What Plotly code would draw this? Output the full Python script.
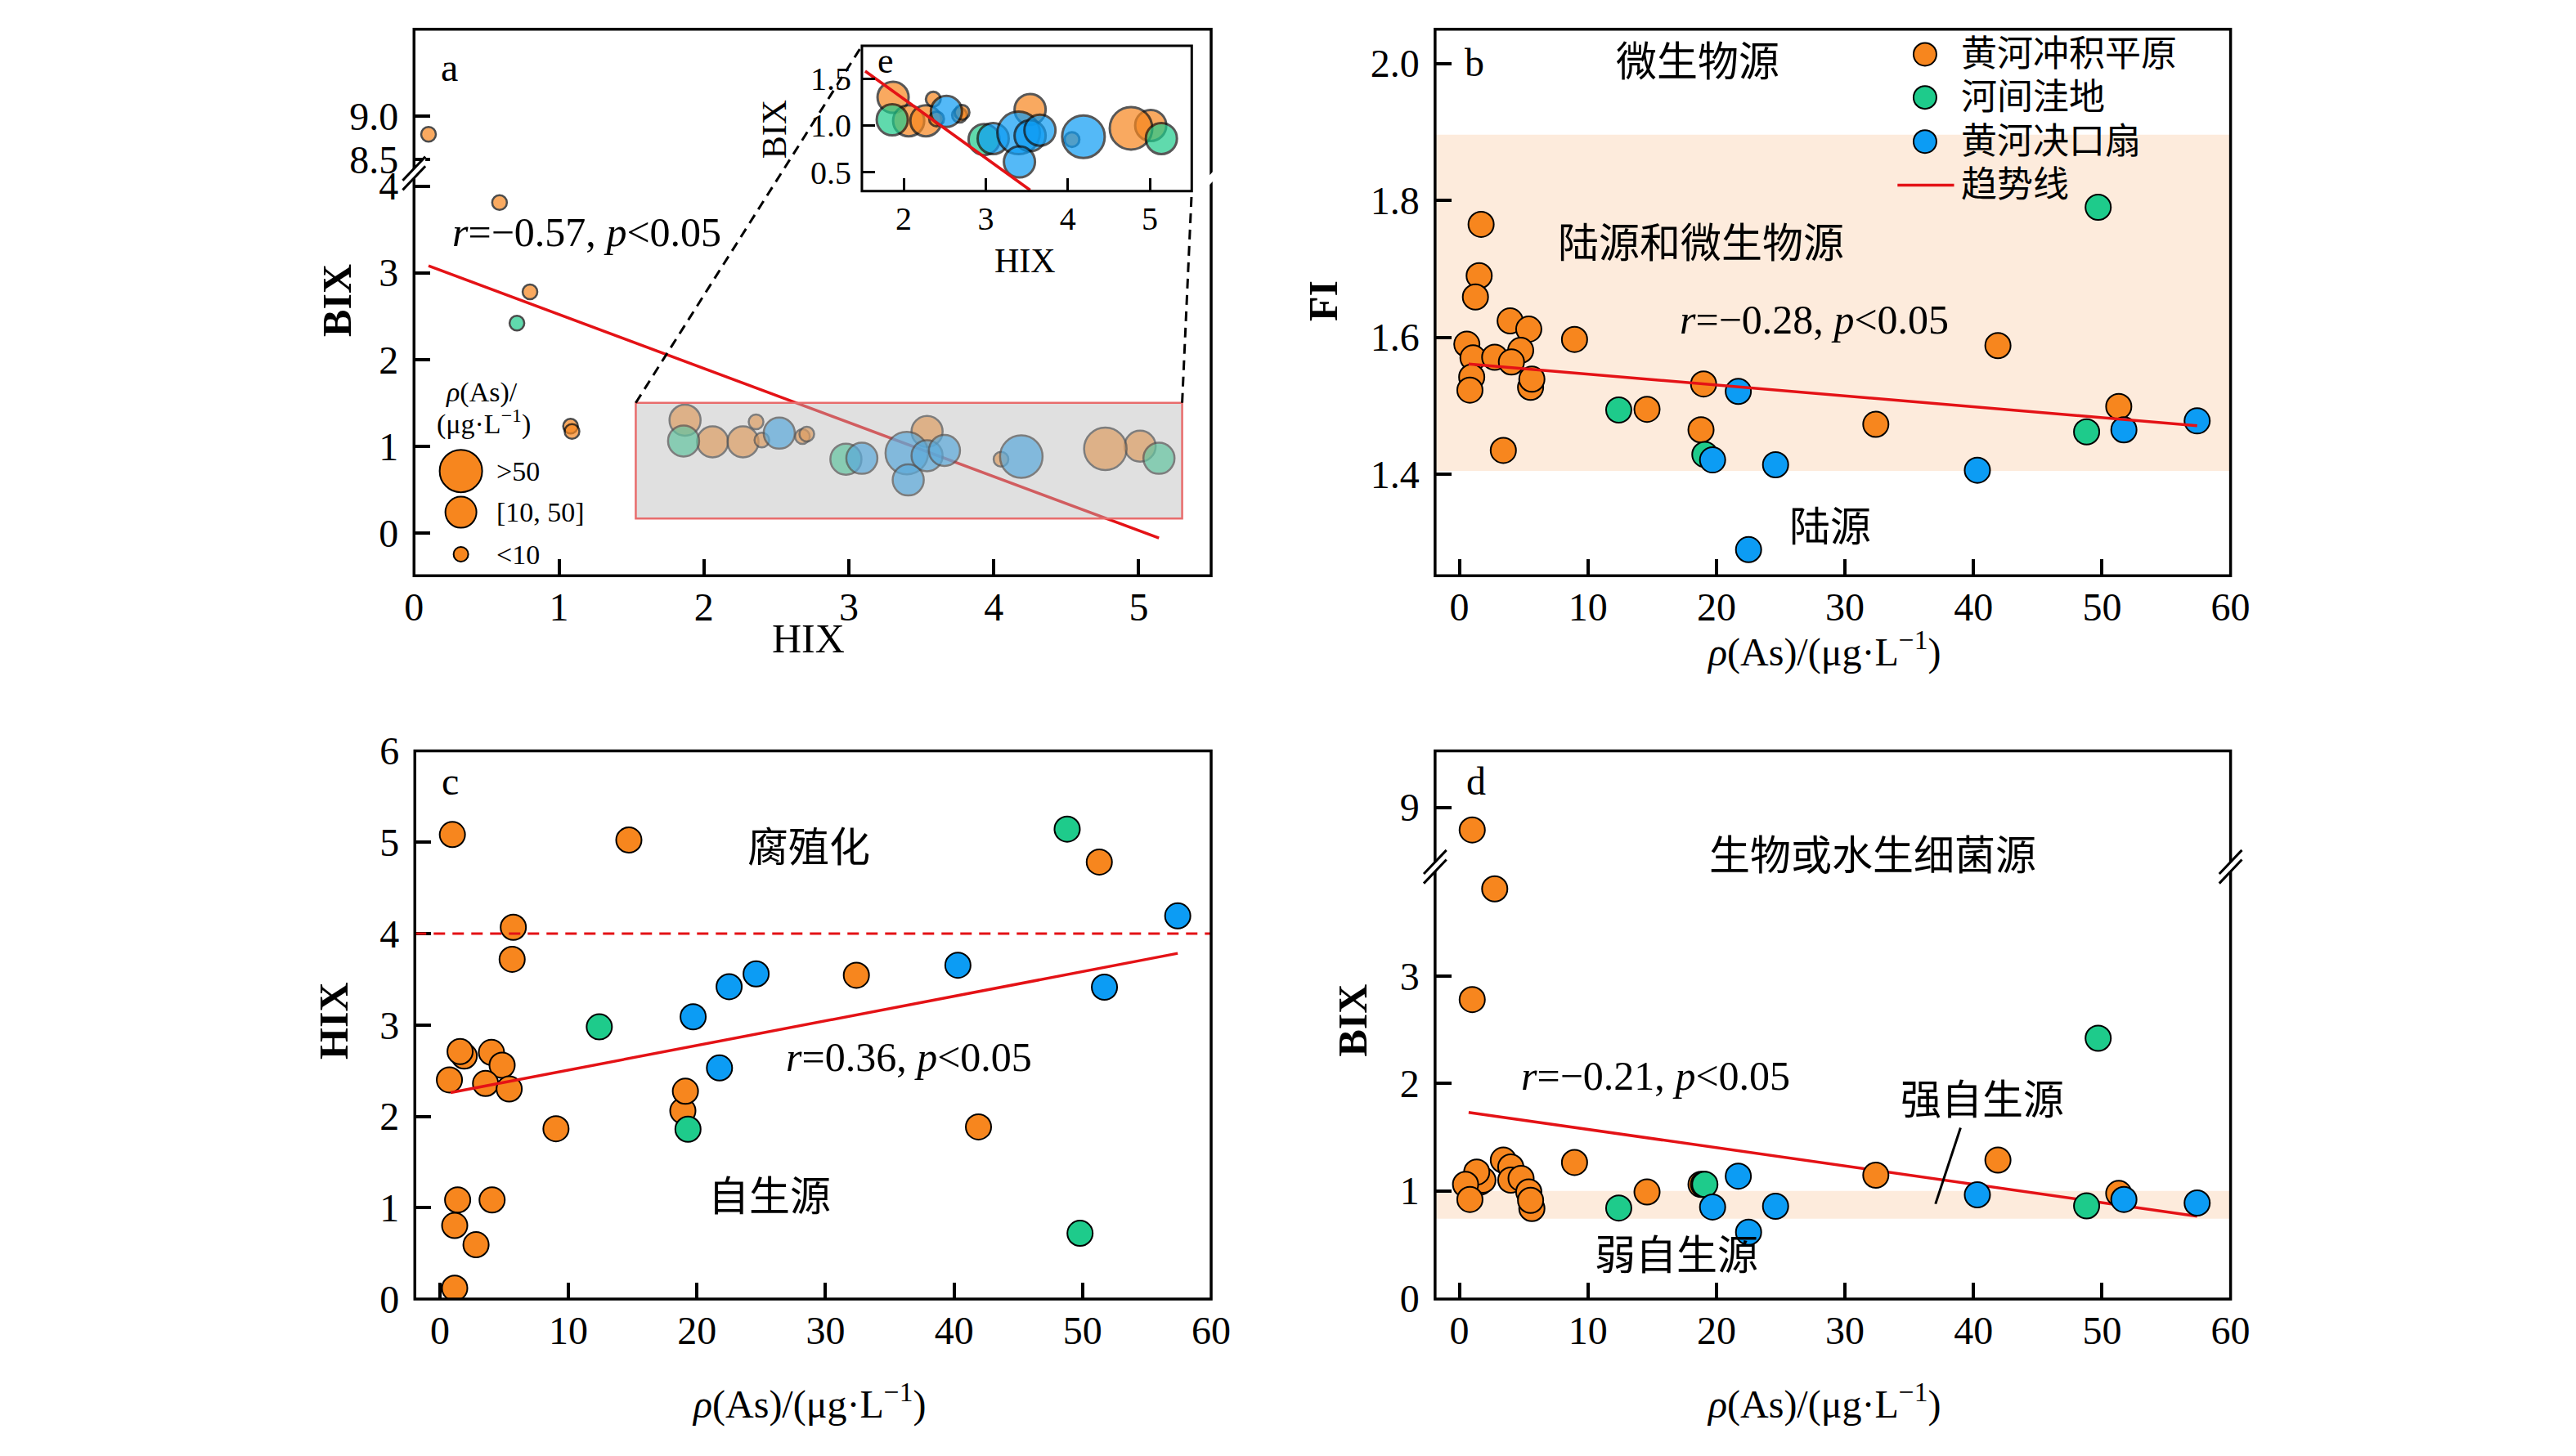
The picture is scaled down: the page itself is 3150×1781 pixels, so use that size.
import plotly.graph_objects as go

W, H = 3150, 1781
FONT = "Liberation Serif, Noto Sans CJK SC, serif"

# groups
groups = ["黄河冲积平原", "河间洼地", "黄河决口扇"]
colors = ["#F7861E", "#1ECB8B", "#0C9CF4"]
trend_color = "rgb(228,18,22)"

# size classes of rho(As)
size_labels = [">50", "[10, 50]", "<10"]
size_px = {">50": 52, "[10, 50]": 38, "<10": 18}

# panel a / e : HIX vs BIX
a_orange_hix = [0.10, 0.59, 0.80, 1.08, 1.09, 1.87, 2.06, 2.27, 2.36, 2.40, 2.68, 2.71, 3.54, 4.05, 5.01, 4.77]
a_orange_bix = [8.79, 3.81, 2.78, 1.23, 1.17, 1.30, 1.05, 1.05, 1.28, 1.07, 1.11, 1.14, 1.17, 0.85, 1.00, 0.97]
a_orange_cls = ["<10", "<10", "<10", "<10", "<10", "[10, 50]", "[10, 50]", "[10, 50]", "<10", "<10",
                "<10", "<10", "[10, 50]", "<10", "[10, 50]", ">50"]
a_green_hix = [0.71, 1.86, 2.98, 5.14]
a_green_bix = [2.42, 1.06, 0.85, 0.86]
a_green_cls = ["<10", "[10, 50]", "[10, 50]", "[10, 50]"]
a_blue_hix = [2.52, 3.09, 3.40, 3.54, 3.66, 3.41, 4.19]
a_blue_bix = [1.15, 0.86, 0.92, 0.89, 0.95, 0.61, 0.88]
a_blue_cls = ["[10, 50]", "[10, 50]", ">50", "[10, 50]", "[10, 50]", "[10, 50]", ">50"]
a_trend_x = [0.10, 5.14]
a_trend_y = [3.08, -0.06]
e_trend_x = [1.53, 3.54]
e_trend_y = [1.58, 0.31]

# panel b : As vs FI
b_orange_as = [1.69, 1.54, 1.25, 3.95, 5.4, 0.58, 1.06, 2.75, 4.77, 4.05, 0.96, 5.54, 5.64, 0.82, 8.96,
               3.42, 14.6, 19.0, 18.8, 32.4, 41.9, 51.3]
b_orange_fi = [1.765, 1.690, 1.659, 1.624, 1.612, 1.590, 1.570, 1.571, 1.581, 1.564, 1.542, 1.527, 1.539,
               1.523, 1.597, 1.435, 1.495, 1.532, 1.465, 1.473, 1.588, 1.499]
b_green_as = [12.4, 19.1, 48.8, 49.7]
b_green_fi = [1.494, 1.429, 1.462, 1.790]
b_blue_as = [21.7, 19.7, 24.6, 22.5, 40.3, 51.7, 57.4]
b_blue_fi = [1.521, 1.421, 1.414, 1.290, 1.406, 1.465, 1.478]
b_trend_x = [0.72, 57.4]
b_trend_y = [1.561, 1.471]
fi_band = [1.405, 1.896]

# panel c : As vs HIX
c_orange_as = [0.97, 14.7, 5.71, 5.62, 1.89, 1.57, 4.01, 4.84, 0.74, 3.55, 5.39, 9.03, 18.9, 19.1, 32.4,
               41.9, 51.3, 1.38, 4.06, 1.15, 2.81, 1.15]
c_orange_hix = [5.085, 5.025, 4.07, 3.72, 2.66, 2.71, 2.70, 2.56, 2.40, 2.36, 2.30, 1.865, 2.06, 2.275,
                3.545, 1.885, 4.785, 1.085, 1.085, 0.805, 0.595, 0.12]
c_green_as = [12.4, 19.3, 48.8, 49.8]
c_green_hix = [2.98, 1.86, 5.145, 0.72]
c_blue_as = [19.7, 21.75, 22.5, 24.6, 40.3, 51.7, 57.4]
c_blue_hix = [3.09, 2.53, 3.42, 3.56, 3.655, 3.415, 4.195]
c_trend_x = [0.83, 57.4]
c_trend_y = [2.26, 3.785]
hix_threshold = 4

# panel d : As vs BIX
d_orange_as = [1.0, 2.75, 1.0, 3.42, 4.0, 8.96, 1.6, 1.83, 1.35, 0.48, 0.82, 4.0, 4.8, 5.64, 5.4, 5.54,
               14.6, 18.8, 19.0, 32.4, 41.9, 51.3]
d_orange_bix = [8.79, 3.81, 2.78, 1.286, 1.222, 1.264, 1.08, 1.10, 1.175, 1.06, 0.92, 1.10, 1.116, 0.836,
                0.99, 0.912, 0.989, 1.06, 1.06, 1.146, 1.286, 0.976]
d_green_as = [12.4, 19.1, 48.8, 49.7]
d_green_bix = [0.84, 1.06, 0.86, 2.42]
d_blue_as = [21.7, 19.7, 24.6, 22.5, 40.3, 51.7, 57.4]
d_blue_bix = [1.137, 0.85, 0.857, 0.615, 0.963, 0.92, 0.887]
d_trend_x = [0.72, 57.4]
d_trend_y = [1.73, 0.764]
bix_band = [0.74, 1.0]


def fx(px):
    return px / W


def fy(py):
    return 1 - py / H


# panel boxes in pixels: (left, top, right, bottom)
PA = (500, 10, 1486, 699)
PB = (1763, 10, 2747, 699)
PC = (501, 920, 1486, 1611)
PD = (1763, 920, 2747, 1611)
PE = (1054, 31, 1462, 214)
A_BREAK = 191.7
D_BREAK = 1063

fig = go.Figure()


def scatter(x, y, color, xa, ya, size=31, lw=2, line="black"):
    fig.add_trace(go.Scatter(x=x, y=y, mode="markers", xaxis=xa, yaxis=ya, showlegend=False,
                             marker=dict(color=color, size=size, line=dict(color=line, width=lw))))


def trend(x, y, xa, ya):
    fig.add_trace(go.Scatter(x=x, y=y, mode="lines", xaxis=xa, yaxis=ya, showlegend=False,
                             line=dict(color=trend_color, width=3.5)))


a_sets = [(a_orange_hix, a_orange_bix, a_orange_cls), (a_green_hix, a_green_bix, a_green_cls),
          (a_blue_hix, a_blue_bix, a_blue_cls)]

# panel a (lower and upper part) and inset e
trend(a_trend_x, a_trend_y, "x", "y")
for (hx, bx, cl), col in zip(a_sets, colors):
    sz = [size_px[c] for c in cl]
    for ya in ["y", "y2"]:
        scatter(hx, bx, col, "x", ya, size=sz, lw=2.5)
for (hx, bx, cl), col in zip(a_sets, colors):
    sz = [size_px[c] for c in cl]
    scatter(hx, bx, col, "x5", "y7", size=sz, lw=3, line="#111111")
trend(e_trend_x, e_trend_y, "x5", "y7")

# panel b
for xs, ys, col in zip([b_orange_as, b_green_as, b_blue_as], [b_orange_fi, b_green_fi, b_blue_fi], colors):
    scatter(xs, ys, col, "x2", "y3")
trend(b_trend_x, b_trend_y, "x2", "y3")

# panel c
for xs, ys, col in zip([c_orange_as, c_green_as, c_blue_as], [c_orange_hix, c_green_hix, c_blue_hix], colors):
    scatter(xs, ys, col, "x3", "y4")
trend(c_trend_x, c_trend_y, "x3", "y4")

# panel d (lower and upper part)
trend(d_trend_x, d_trend_y, "x4", "y5")
for xs, ys, col in zip([d_orange_as, d_green_as, d_blue_as], [d_orange_bix, d_green_bix, d_blue_bix], colors):
    for ya in ["y5", "y6"]:
        scatter(xs, ys, col, "x4", ya)

ax = dict(showgrid=False, zeroline=False, showline=False, ticks="inside", ticklen=20, tickwidth=3.5,
          tickcolor="black", tickfont=dict(size=48, family=FONT, color="black"), ticklabelstandoff=18)
xax = dict(ax, ticklabelstandoff=6)
inset_ax = dict(ax, ticklen=16, tickwidth=3, tickfont=dict(size=40, family=FONT, color="black"),
                ticklabelstandoff=12)
inset_xax = dict(inset_ax, ticklabelstandoff=6)
as_ticks = [0, 10, 20, 30, 40, 50, 60]

fig.update_layout(
    xaxis=dict(xax, domain=[fx(PA[0]), fx(PA[2])], range=[0, 5.5], tickvals=[0, 1, 2, 3, 4, 5], anchor="y"),
    yaxis=dict(ax, domain=[fy(PA[3]), fy(A_BREAK)], range=[-0.494, 4.147], tickvals=[0, 1, 2, 3, 4], anchor="x"),
    yaxis2=dict(ax, domain=[fy(A_BREAK), fy(PA[1])], range=[8.342, 9.994], tickvals=[8.5, 9.0],
                tickformat=".1f", anchor="x"),
    xaxis2=dict(xax, domain=[fx(PB[0]), fx(PB[2])], range=[-1.89, 60], tickvals=as_ticks, anchor="y3"),
    yaxis3=dict(ax, domain=[fy(PB[3]), fy(PB[1])], range=[1.252, 2.05], tickvals=[1.4, 1.6, 1.8, 2.0],
                tickformat=".1f", anchor="x2"),
    xaxis3=dict(xax, domain=[fx(PC[0]), fx(PC[2])], range=[-1.95, 60], tickvals=as_ticks, anchor="y4"),
    yaxis4=dict(ax, domain=[fy(PC[3]), fy(PC[1])], range=[0, 6], tickvals=[0, 1, 2, 3, 4, 5, 6], anchor="x3"),
    xaxis4=dict(xax, domain=[fx(PD[0]), fx(PD[2])], range=[-1.89, 60], tickvals=as_ticks, anchor="y5"),
    yaxis5=dict(ax, domain=[fy(PD[3]), fy(D_BREAK)], range=[-0.007, 4.037], tickvals=[0, 1, 2, 3], anchor="x4"),
    yaxis6=dict(ax, domain=[fy(D_BREAK), fy(PD[1])], range=[8.469, 9.524], tickvals=[9], anchor="x4"),
    xaxis5=dict(inset_xax, domain=[fx(PE[0]), fx(PE[2])], range=[1.49, 5.51], tickvals=[2, 3, 4, 5], anchor="y7"),
    yaxis7=dict(inset_ax, domain=[fy(PE[3]), fy(PE[1])], range=[0.30, 1.85], tickvals=[0.5, 1.0, 1.5],
                tickformat=".1f", anchor="x5"),
)

shapes = []
# background bands and threshold
shapes.append(dict(type="rect", xref="x2 domain", yref="y3", x0=0, x1=1, y0=fi_band[0], y1=fi_band[1],
                   fillcolor="#FDEBDC", line=dict(width=0), layer="below"))
shapes.append(dict(type="rect", xref="x4 domain", yref="y5", x0=0, x1=1, y0=bix_band[0], y1=bix_band[1],
                   fillcolor="#FDEBDC", line=dict(width=0), layer="below"))
shapes.append(dict(type="line", xref="x3 domain", yref="y4", x0=0, x1=1, y0=hix_threshold, y1=hix_threshold,
                   line=dict(color=trend_color, width=3, dash="14px,9px")))

# zoom window of panel a
box_x = [1.53, 5.30]
box_y = [0.165, 1.50]
shapes.append(dict(type="rect", xref="x", yref="y", x0=box_x[0], x1=box_x[1], y0=box_y[0], y1=box_y[1],
                   fillcolor="rgba(186,186,186,0.45)", line=dict(color="rgb(232,108,108)", width=2.5),
                   layer="above"))


def a_px(xv, yv):
    px = PA[0] + (xv - 0) / 5.5 * (PA[2] - PA[0])
    py = PA[3] - (yv + 0.494) / (4.147 + 0.494) * (PA[3] - A_BREAK)
    return px, py


for (bx, by), (ex, ey) in [((box_x[0], box_y[1]), (PE[0], PE[1])), ((box_x[1], box_y[1]), (PE[2], PE[3]))]:
    px, py = a_px(bx, by)
    shapes.append(dict(type="line", xref="paper", yref="paper", x0=fx(px), y0=fy(py), x1=fx(ex), y1=fy(ey),
                       line=dict(color="black", width=3, dash="12px,8px")))

# frames
for (l, t, r, b), w in [(PA, 3.5), (PB, 3.5), (PC, 3.5), (PD, 3.5), (PE, 3)]:
    shapes.append(dict(type="rect", xref="paper", yref="paper", x0=fx(l), x1=fx(r), y0=fy(b), y1=fy(t),
                       line=dict(color="black", width=w), fillcolor="rgba(0,0,0,0)"))


def brk(cx, cy, marks=True):
    p = [(cx - 14, cy + 21), (cx + 14, cy - 9), (cx + 14, cy - 21), (cx - 14, cy + 9)]
    path = "M" + " L".join(f"{fx(a)},{fy(b)}" for a, b in p) + " Z"
    shapes.append(dict(type="path", xref="paper", yref="paper", path=path, fillcolor="white",
                       line=dict(width=0)))
    if marks:
        for d in (6, -6):
            shapes.append(dict(type="line", xref="paper", yref="paper", x0=fx(cx - 14), y0=fy(cy + d + 15),
                               x1=fx(cx + 14), y1=fy(cy + d - 15), line=dict(color="black", width=3)))


brk(PA[0], A_BREAK)
brk(PA[2], 198, marks=False)
brk(PD[0], D_BREAK + 3)
brk(PD[2], D_BREAK + 3)

# pointer of 强自生源
shapes.append(dict(type="line", xref="paper", yref="paper", x0=fx(2413), y0=fy(1395), x1=fx(2382), y1=fy(1491),
                   line=dict(color="black", width=3)))


def dot(px, py, d, color, lw=2):
    shapes.append(dict(type="circle", xref="paper", yref="paper", xsizemode="pixel", ysizemode="pixel",
                       xanchor=fx(px), yanchor=fy(py), x0=-d / 2, x1=d / 2, y0=-d / 2, y1=d / 2,
                       fillcolor=color, line=dict(color="black", width=lw)))


annotations = []


def txt(px, py, text, size=50, xanchor="center", angle=0):
    annotations.append(dict(x=fx(px), y=fy(py), xref="paper", yref="paper", text=text, showarrow=False,
                            xanchor=xanchor, yanchor="middle", textangle=angle,
                            font=dict(family=FONT, size=size, color="black")))


# legend of panel b
leg_rows = [41.7, 96, 151.7]
for name, col, ry in zip(groups, colors, leg_rows):
    dot(2369, ry, 28, col)
    txt(2412, ry, name, 44, "left")
shapes.append(dict(type="line", xref="paper", yref="paper", x0=fx(2335), x1=fx(2405), y0=fy(206.7), y1=fy(206.7),
                   line=dict(color=trend_color, width=3.5)))
txt(2412, 206.7, "趋势线", 44, "left")

# size legend of panel a
for lab, ry in zip(size_labels, [567, 619, 672]):
    dot(558, ry, size_px[lab], colors[0], 2)
    txt(600, ry, lab, 34, "left")
txt(584, 468, "<i>ρ</i>(As)/", 34)
txt(586, 506, "(μg·L<sup>−1</sup>)", 34)

rho = "<i>ρ</i>(As)/(μg·L<sup>−1</sup>)"
# panel a texts
txt(544, 58, "a", 48)
txt(1083, 50, "e", 44)
txt(714, 266, "<i>r</i>=−0.57, <i>p</i>&lt;0.05", 50)
txt(988, 778, "HIX", 50)
txt(404, 352, "<b>BIX</b>", 50, angle=-90)
txt(1256, 302, "HIX", 42)
txt(946, 136, "BIX", 42, angle=-90)
# panel b texts
txt(1812, 52, "b", 48)
txt(2088, 52, "微生物源", 50)
txt(2092, 280, "陆源和微生物源", 50)
txt(2232, 376, "<i>r</i>=−0.28, <i>p</i>&lt;0.05", 50)
txt(2252, 638, "陆源", 50)
txt(1624, 352, "<b>FI</b>", 50, angle=-90)
txt(2244, 792, rho, 48)
# panel c texts
txt(545, 958, "c", 48)
txt(988, 1042, "腐殖化", 50)
txt(940, 1482, "自生源", 50)
txt(1112, 1306, "<i>r</i>=0.36, <i>p</i>&lt;0.05", 50)
txt(400, 1260, "<b>HIX</b>", 50, angle=-90)
txt(988, 1740, rho, 48)
# panel d texts
txt(1814, 958, "d", 48)
txt(2304, 1052, "生物或水生细菌源", 50)
txt(2036, 1330, "<i>r</i>=−0.21, <i>p</i>&lt;0.05", 50)
txt(2440, 1360, "强自生源", 50)
txt(2062, 1556, "弱自生源", 50)
txt(1660, 1260, "<b>BIX</b>", 50, angle=-90)
txt(2244, 1740, rho, 48)

# the figure fills the browser window
fig.update_layout(autosize=True, margin=dict(l=0, r=0, t=0, b=0, pad=0), paper_bgcolor="white",
                  plot_bgcolor="white", showlegend=False, shapes=shapes, annotations=annotations,
                  font=dict(family=FONT, size=48, color="black"))

fig.write_html("out.html", default_width="100vw", default_height="100vh",
               config={"displayModeBar": False, "responsive": True},
               post_script="document.body.style.margin='0';document.body.style.overflow='hidden';"
                           "Plotly.Plots.resize(document.getElementById('{plot_id}'));")
